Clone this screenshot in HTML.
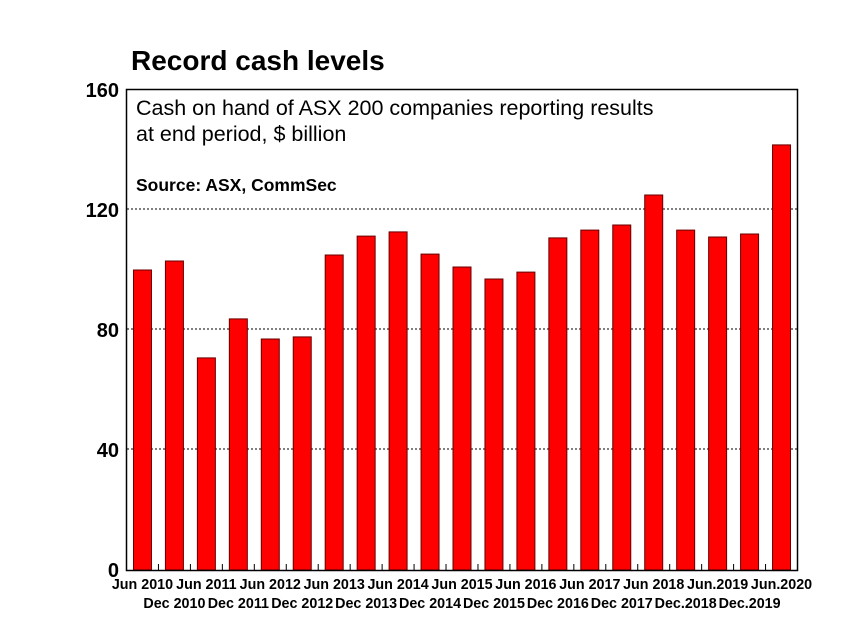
<!DOCTYPE html>
<html><head><meta charset="utf-8"><style>
body{margin:0;background:#fff;}
svg{display:block;font-family:"Liberation Sans",Arial,sans-serif;}
</style></head><body>
<svg width="850" height="638" viewBox="0 0 850 638">
<rect width="850" height="638" fill="#fff"/>
<text x="131" y="70" font-size="28" font-weight="bold">Record cash levels</text>
<g stroke="#000" stroke-width="1" stroke-dasharray="2,2">
<line x1="127" x2="797" y1="209" y2="209"/>
<line x1="127" x2="797" y1="329" y2="329"/>
<line x1="127" x2="797" y1="449" y2="449"/>
</g>
<g font-size="20" font-weight="bold" text-anchor="end">
<text x="119" y="97">160</text>
<text x="119" y="217">120</text>
<text x="119" y="337">80</text>
<text x="119" y="457">40</text>
<text x="119" y="577">0</text>
</g>
<text x="136" y="115" font-size="21.5">Cash on hand of ASX 200 companies reporting results</text>
<text x="136" y="141" font-size="21.5">at end period, $ billion</text>
<text x="136" y="191" font-size="17.5" font-weight="bold">Source: ASX, CommSec</text>
<g id="bars" fill="#ff0000" stroke="#600" stroke-width="1"></g>
<g id="ticks" stroke="#000" stroke-width="1"></g>
<rect x="126.5" y="89.5" width="671" height="481" fill="none" stroke="#000" stroke-width="1.5"/>
<g id="lab" font-size="14.3" font-weight="bold" text-anchor="middle"></g>
</svg>
<script>
var v=[100,103,70.7,83.7,77,77.7,105,111.3,112.7,105.3,101,97,99.3,110.7,113.3,115,125,113.3,111,112,141.7];
var L=["Jun 2010","Dec 2010","Jun 2011","Dec 2011","Jun 2012","Dec 2012","Jun 2013","Dec 2013","Jun 2014","Dec 2014","Jun 2015","Dec 2015","Jun 2016","Dec 2016","Jun 2017","Dec 2017","Jun 2018","Dec.2018","Jun.2019","Dec.2019","Jun.2020"];
var ns="http://www.w3.org/2000/svg",b=document.getElementById('bars'),t=document.getElementById('ticks'),l=document.getElementById('lab');
var w=671/21;
for(var i=0;i<21;i++){
 var cx=126.5+w*(i+0.5);
 var r=document.createElementNS(ns,'rect');
 var h=v[i]*3.0;
 r.setAttribute('x',cx-9);r.setAttribute('y',570-h);r.setAttribute('width',18);r.setAttribute('height',h);
 b.appendChild(r);
 if(i<20){
 var tk=document.createElementNS(ns,'line');
 var tx=126.5+w*(i+1);
 tk.setAttribute('x1',tx);tk.setAttribute('x2',tx);tk.setAttribute('y1',564);tk.setAttribute('y2',570);
 t.appendChild(tk);}
 var tt=document.createElementNS(ns,'text');
 tt.setAttribute('x',cx);tt.setAttribute('y',i%2==0?589:608);tt.textContent=L[i];
 l.appendChild(tt);
}
</script>
</body></html>
